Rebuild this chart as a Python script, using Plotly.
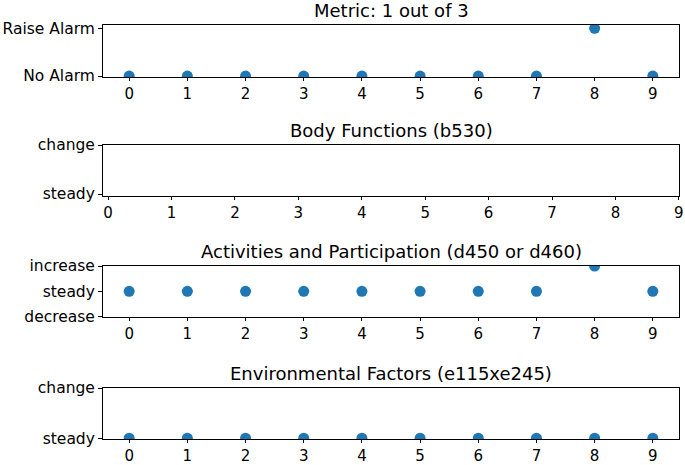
import plotly.graph_objects as go

# ---- data ----
steps = [0, 1, 2, 3, 4, 5, 6, 7, 8, 9]

metric_labels = ["No Alarm", "Raise Alarm"]
metric_values = ["No Alarm", "No Alarm", "No Alarm", "No Alarm", "No Alarm",
                 "No Alarm", "No Alarm", "No Alarm", "Raise Alarm", "No Alarm"]

body_labels = ["steady", "change"]
body_steps = []
body_values = []

activity_labels = ["decrease", "steady", "increase"]
activity_values = ["steady", "steady", "steady", "steady", "steady",
                   "steady", "steady", "steady", "increase", "steady"]

env_labels = ["steady", "change"]
env_values = ["steady"] * 10

titles = ["Metric: 1 out of 3", "Body Functions (b530)",
          "Activities and Participation (d450 or d460)",
          "Environmental Factors (e115xe245)"]

# ---- layout helpers ----
W, H = 685, 465
FONT = "DejaVu Sans"
BLUE = "#1f77b4"

xdom = [103 / W, 679 / W]
panels_px = [(25, 77), (145, 196), (266, 317), (388, 439)]
ydoms = [[1 - b / H, 1 - t / H] for (t, b) in panels_px]

series = [
    (steps, [metric_labels.index(v) for v in metric_values], metric_labels, [-0.02, 1.07], [-0.45, 9.45]),
    (body_steps, [body_labels.index(v) for v in body_values], body_labels, [-0.04, 1.0], [-0.08, 9.002]),
    (steps, [activity_labels.index(v) for v in activity_values], activity_labels, [-0.01, 2.0], [-0.45, 9.45]),
    (steps, [env_labels.index(v) for v in env_values], env_labels, [-0.015, 1.0], [-0.45, 9.45]),
]

fig = go.Figure()
layout = dict(
    width=W, height=H,
    margin=dict(l=0, r=0, t=0, b=0, autoexpand=False),
    paper_bgcolor="white", plot_bgcolor="white",
    showlegend=False,
    font=dict(family=FONT, size=15.5, color="black"),
    annotations=[],
)

for i, (xs, ys, labels, yr, xr) in enumerate(series):
    n = "" if i == 0 else str(i + 1)
    fig.add_trace(go.Scatter(
        x=xs, y=ys, mode="markers",
        marker=dict(color=BLUE, size=11, line=dict(width=0)),
        xaxis="x" + n, yaxis="y" + n, cliponaxis=True,
    ))
    axis_common = dict(showline=True, linecolor="black", linewidth=1, mirror=True,
                       ticks="outside", tickwidth=1, tickcolor="black",
                       showgrid=False, zeroline=False, automargin=False)
    layout["xaxis" + n] = dict(domain=xdom, anchor="y" + n, range=xr,
                               tickmode="array", tickvals=steps, ticklen=3,
                               ticktext=[str(s) for s in steps],
                               tickfont=dict(family=FONT, size=15, color="black"),
                               **axis_common)
    layout["yaxis" + n] = dict(domain=ydoms[i], anchor="x" + n, range=yr,
                               tickmode="array", tickvals=list(range(len(labels))),
                               ticktext=labels, ticklen=4,
                               tickfont=dict(family=FONT, size=15.5, color="black"),
                               **axis_common)
    layout["annotations"].append(dict(
        text=titles[i], xref="paper", yref="paper",
        x=(xdom[0] + xdom[1]) / 2, y=ydoms[i][1],
        xanchor="center", yanchor="bottom", yshift=2, showarrow=False,
        font=dict(family=FONT, size=18, color="black"),
    ))

fig.update_layout(**layout)
fig.write_html("out.html",
               config={"displayModeBar": False, "staticPlot": True},
               post_script="document.body.style.margin='0';document.body.style.overflow='hidden';")
